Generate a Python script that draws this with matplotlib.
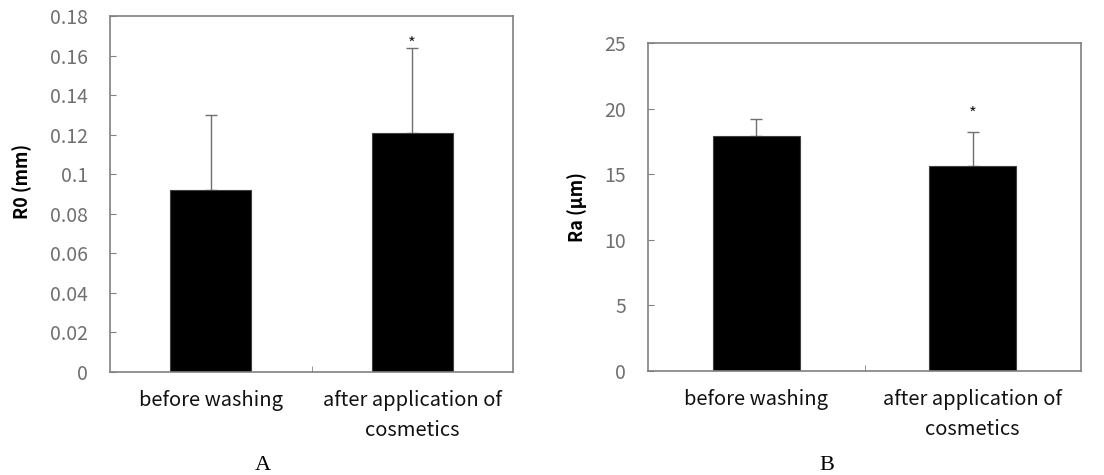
"""
Two bar charts: R0 and Ra before washing / after application of cosmetics
"""

import numpy as np
import matplotlib.pyplot as plt

plt.rcParams['font.family'] = ['Noto Sans CJK KR', 'DejaVu Sans']

categories = ['before washing', 'after application of\ncosmetics']

r0_mean = [0.092, 0.121]
r0_err = [0.038, 0.043]
r0_ticks = [0, 0.02, 0.04, 0.06, 0.08, 0.1, 0.12, 0.14, 0.16, 0.18]
r0_ticklabels = ['0', '0.02', '0.04', '0.06', '0.08', '0.1', '0.12', '0.14', '0.16', '0.18']

ra_mean = [17.9, 15.6]
ra_err = [1.3, 2.6]
ra_ticks = [0, 5, 10, 15, 20, 25]
ra_ticklabels = ['0', '5', '10', '15', '20', '25']

frame_col = '#808080'
tick_col = '#707070'

fig = plt.figure(figsize=(11.04, 4.75), dpi=100)
W, H = 1104, 475


def panel(rect, mean, err, ticks, ticklabels, ylim, ylabel, star_y, letter, letter_x, ylab_x, ylab_y):
    ax = fig.add_axes(rect)
    x = np.arange(len(mean))
    ax.bar(x, mean, width=0.4, color='black', edgecolor='#404040', linewidth=0.8, zorder=2)
    ax.errorbar(x, mean, yerr=[np.zeros(len(err)), err], fmt='none',
                ecolor='#707070', elinewidth=1.0, capsize=4, capthick=1.0, zorder=1)
    ax.text(1, star_y, '*', ha='center', va='center', fontsize=12, color='#202020')
    ax.set_xlim(-0.5, 1.5)
    ax.set_ylim(*ylim)
    ax.set_yticks(ticks)
    ax.set_yticklabels(ticklabels, color=tick_col, fontsize=14)
    ax.tick_params(axis='y', direction='in', length=4, color=frame_col, pad=16)
    ax.set_xticks(x)
    ax.set_xticklabels(categories, fontsize=14.5, color='#111111', linespacing=1.55)
    ax.tick_params(axis='x', length=0, pad=13)
    ax.set_xticks([0.5], minor=True)
    ax.tick_params(axis='x', which='minor', direction='in', length=4, color=frame_col)
    for s in ax.spines.values():
        s.set_color(frame_col)
        s.set_linewidth(1.2)
    fig.text(ylab_x / W, 1 - ylab_y / H, ylabel, rotation=90,
             ha='center', va='center', fontsize=13, fontweight='bold')
    fig.text(letter_x / W, 1 - 465 / H, letter, ha='center', va='center',
             fontsize=16, family='Liberation Serif')
    return ax


# panel A: axes box x 110..513, y 16..372 (pixels from top)
rect_a = [110 / W, 1 - 372 / H, 403 / W, 356 / H]
panel(rect_a, r0_mean, r0_err, r0_ticks, r0_ticklabels, (0, 0.18), 'R0 (mm)',
      0.1655, 'A', 263, 22, 181)

# panel B: axes box x 648..1081, y 43..371
rect_b = [648 / W, 1 - 371 / H, 433 / W, 328 / H]
panel(rect_b, ra_mean, ra_err, ra_ticks, ra_ticklabels, (0, 25), 'Ra (μm)',
      19.6, 'B', 827, 577, 207)

fig.savefig('out.png', dpi=100)
